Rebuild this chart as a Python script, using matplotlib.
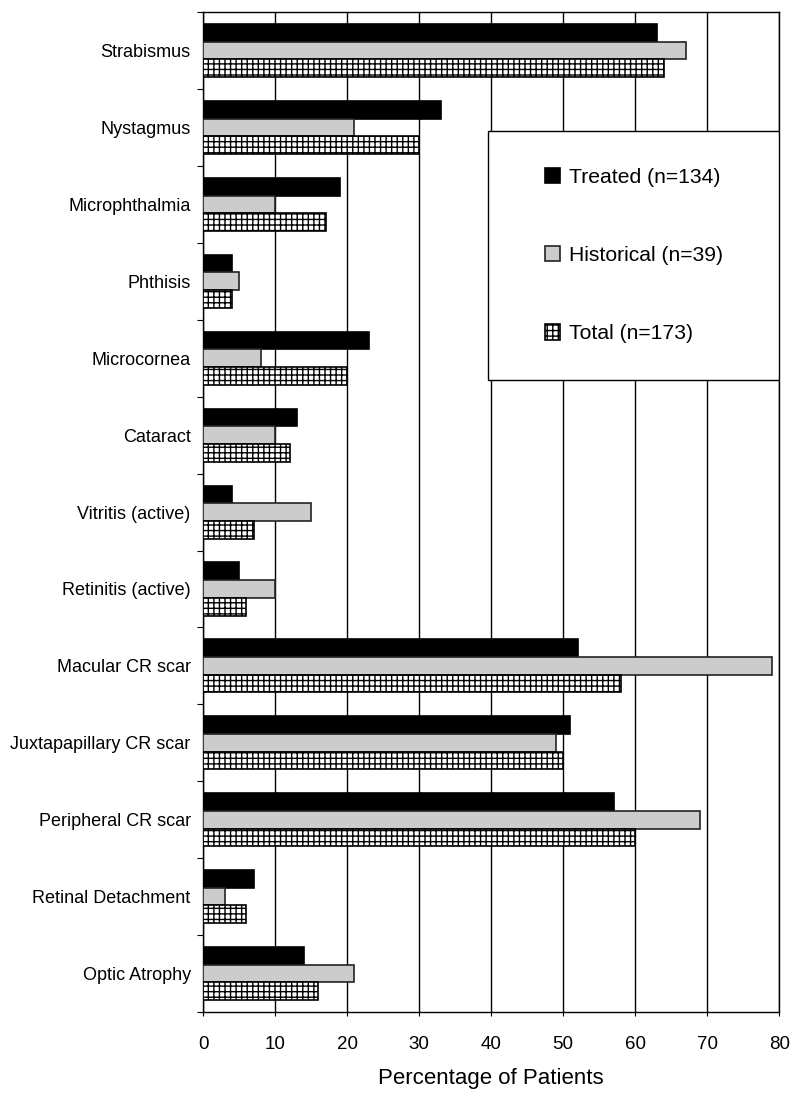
import matplotlib
matplotlib.use("Agg")
import matplotlib.pyplot as plt
import numpy as np
from matplotlib.patches import Rectangle

plt.rcParams['font.family'] = ['Liberation Sans', 'DejaVu Sans']
plt.rcParams['hatch.linewidth'] = 1.0

# data
categories = ["Strabismus", "Nystagmus", "Microphthalmia", "Phthisis", "Microcornea",
              "Cataract", "Vitritis (active)", "Retinitis (active)", "Macular CR scar",
              "Juxtapapillary CR scar", "Peripheral CR scar", "Retinal Detachment",
              "Optic Atrophy"]
treated = [63, 33, 19, 4, 23, 13, 4, 5, 52, 51, 57, 7, 14]
historical = [67, 21, 10, 5, 8, 10, 15, 10, 79, 49, 69, 3, 21]
total = [64, 30, 17, 4, 20, 12, 7, 6, 58, 50, 60, 6, 16]
labels = ["Treated (n=134)", "Historical (n=39)", "Total (n=173)"]

fig = plt.figure(figsize=(8, 11), dpi=100)
ax = fig.add_axes([0.254, 0.080, 0.720, 0.909])

y = np.arange(len(categories))
h = 0.23
b1 = ax.barh(y - h, treated, height=h, color="black", edgecolor="black", lw=1.2, label=labels[0], zorder=3)
b2 = ax.barh(y, historical, height=h, color="#cccccc", edgecolor="#222222", lw=1.2, label=labels[1], zorder=3)
b3 = ax.barh(y + h, total, height=h, color="white", edgecolor="black", hatch="+++", lw=1.2, label=labels[2], zorder=3)

ax.set_xlim(0, 80)
ax.set_ylim(len(categories) - 0.5, -0.5)
ax.set_xticks(np.arange(0, 81, 10))
ax.xaxis.grid(True, color="black", lw=1.0, zorder=0)
ax.set_axisbelow(True)
ax.set_yticks(y)
ax.set_yticklabels(categories, fontsize=13)
ax.set_yticks(np.arange(-0.5, len(categories), 1), minor=True)
ax.tick_params(axis="y", which="major", length=0, pad=9)
ax.tick_params(axis="y", which="minor", length=4, width=0.8, direction="out")
ax.tick_params(axis="x", length=3, width=0.8, labelsize=13.5, pad=14)
ax.set_xlabel("Percentage of Patients", fontsize=16, labelpad=11)
for s in ax.spines.values():
    s.set_linewidth(1.0)

# legend box
box = Rectangle((0.495, 0.632), 0.505, 0.249, transform=ax.transAxes,
                facecolor="white", edgecolor="black", lw=1.0, zorder=5)
ax.add_patch(box)
leg = ax.legend(handles=[b1, b2, b3], loc="center", bbox_to_anchor=(0.7475, 0.7565),
                frameon=False, fontsize=15.2, labelspacing=2.8, handlelength=0.75,
                handleheight=0.75, handletextpad=0.4)
leg.set_zorder(6)

fig.savefig("out.png", dpi=100)
plt.close(fig)
